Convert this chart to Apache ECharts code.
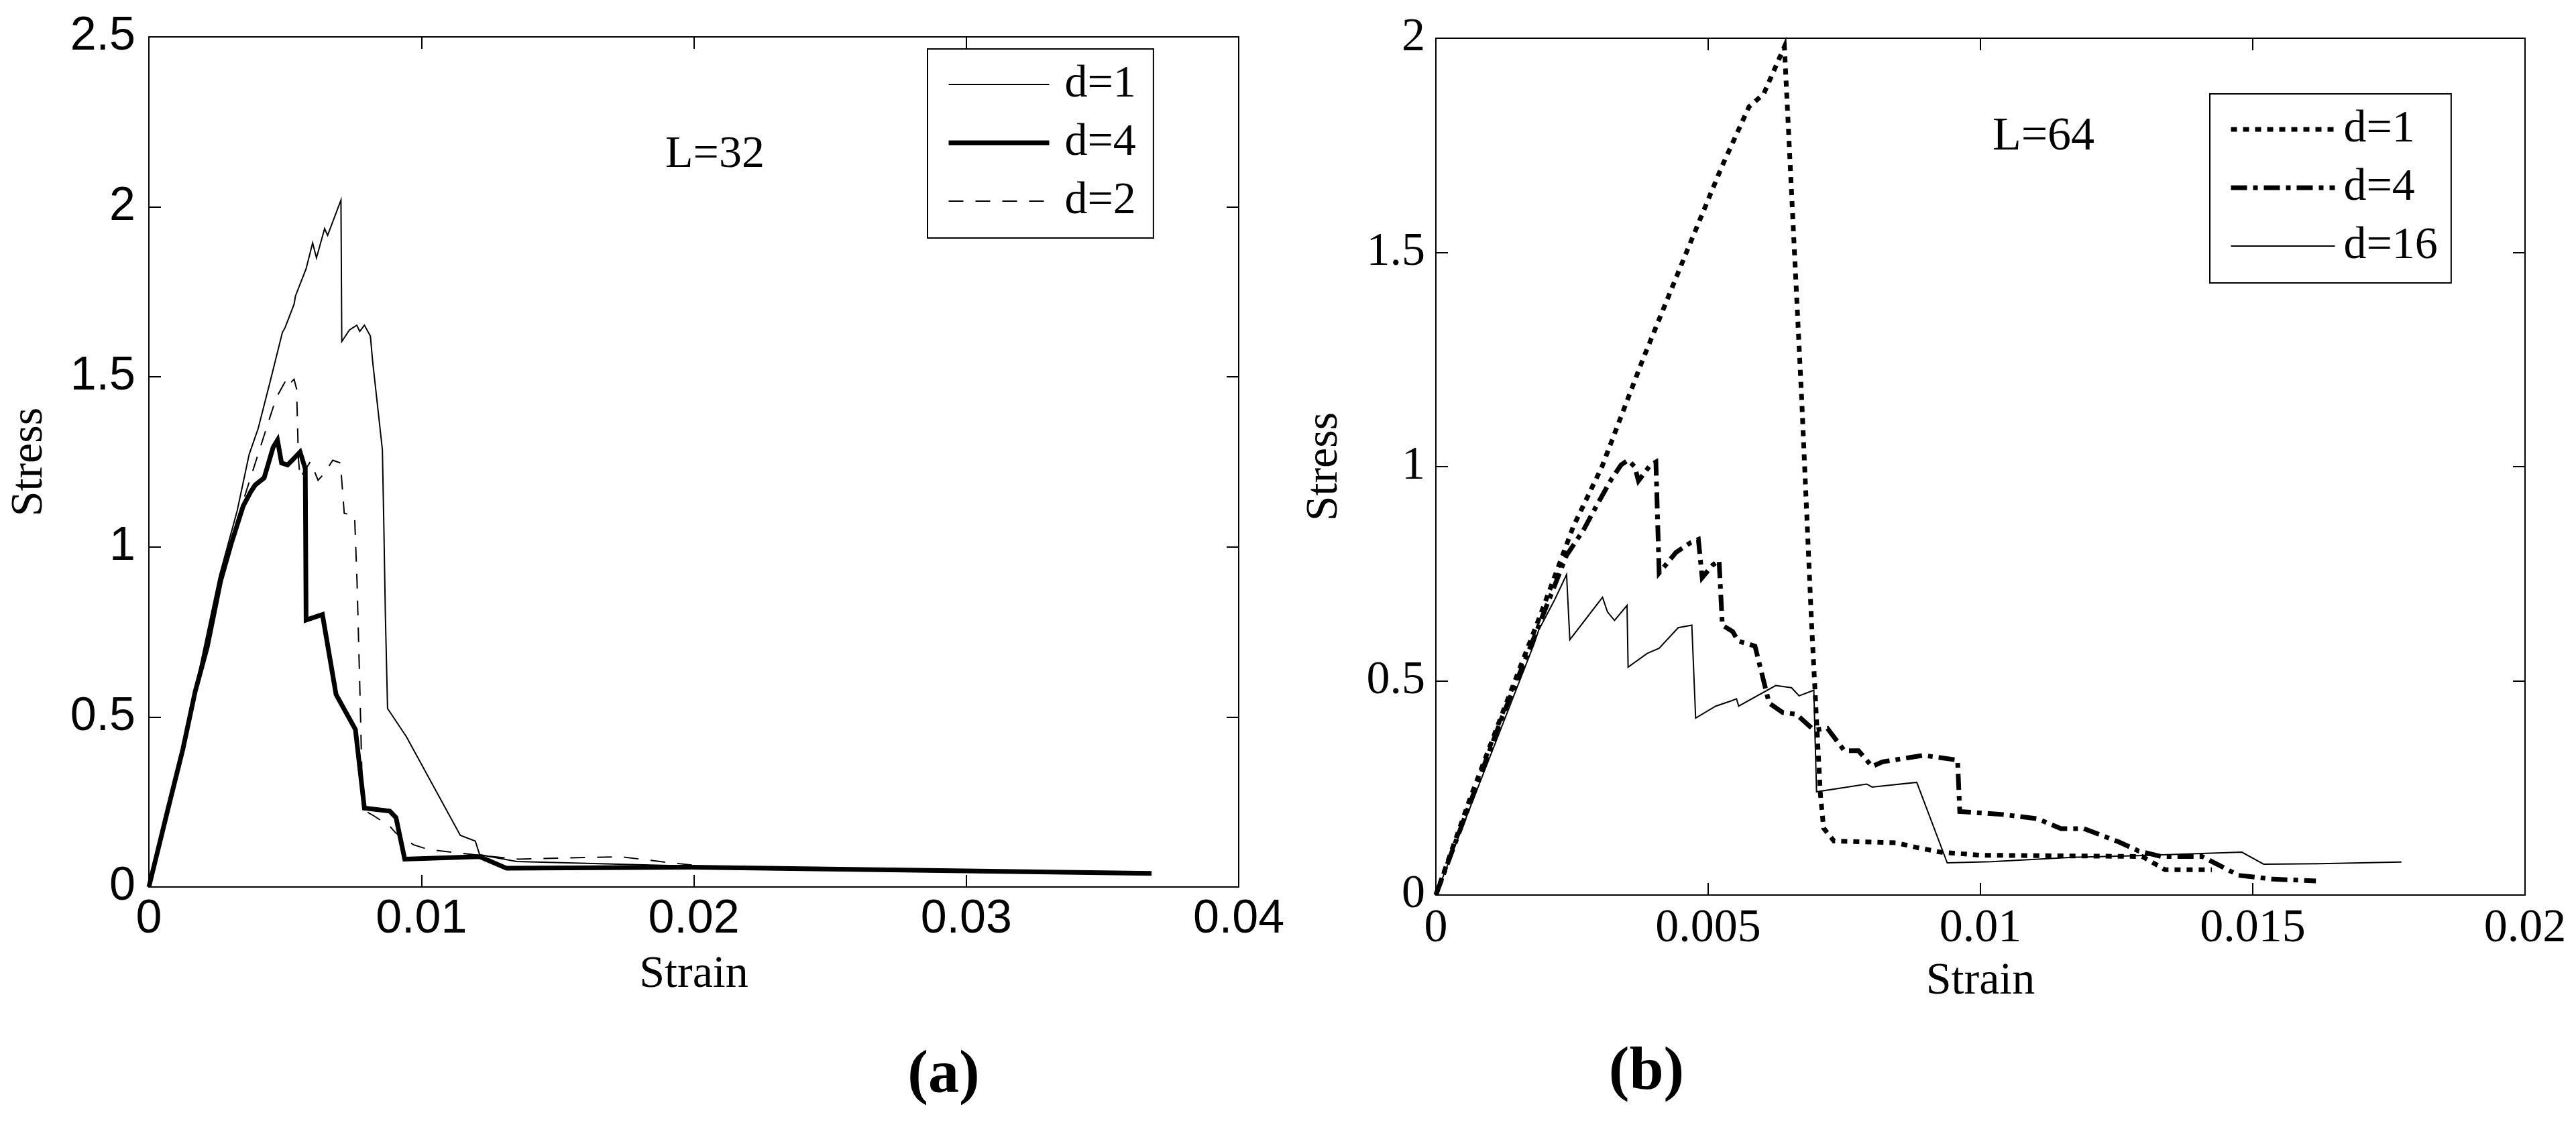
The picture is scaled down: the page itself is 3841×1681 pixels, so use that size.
<!DOCTYPE html>
<html>
<head>
<meta charset="utf-8">
<title>Stress-strain, L=32 and L=64</title>
<script src="https://cdn.jsdelivr.net/npm/echarts@6/dist/echarts.min.js"></script>
<style>
  html, body { margin: 0; padding: 0; background: #fff; }
  #charts { width: 3841px; height: 1681px; }
</style>
</head>
<body>
<div id="charts"></div>
<script>
// ---- data: [strain, stress] ----
// (a) L=32
const l32D1 = [[0,0],[0.00066,0.22],[0.0013,0.43],[0.00258,0.912],[0.00324,1.106],[0.00368,1.272],[0.00401,1.348],[0.00445,1.486],[0.0049,1.631],[0.005,1.645],[0.00533,1.714],[0.00538,1.738],[0.00577,1.818],[0.00601,1.894],[0.00615,1.85],[0.00645,1.936],[0.00656,1.916],[0.00705,2.02],[0.00708,1.604],[0.00736,1.638],[0.00763,1.652],[0.00774,1.634],[0.00791,1.652],[0.00813,1.62],[0.00821,1.548],[0.00857,1.286],[0.00862,1.078],[0.00868,0.8],[0.00876,0.525],[0.00945,0.442],[0.01143,0.152],[0.01198,0.135],[0.01214,0.095],[0.0135,0.075],[0.0205,0.06]];
const l32D4 = [[0,0],[0.00066,0.216],[0.00125,0.406],[0.0017,0.575],[0.00214,0.705],[0.00263,0.899],[0.00302,1.009],[0.00346,1.12],[0.00373,1.161],[0.0039,1.182],[0.00423,1.203],[0.00456,1.293],[0.00472,1.314],[0.00487,1.247],[0.00509,1.241],[0.00555,1.279],[0.00574,1.23],[0.00577,0.785],[0.00637,0.801],[0.00687,0.566],[0.00758,0.463],[0.00791,0.232],[0.00884,0.223],[0.00907,0.204],[0.00939,0.082],[0.01214,0.089],[0.01313,0.055],[0.0199,0.058],[0.0368,0.04]];
const l32D2 = [[0,0],[0.00066,0.22],[0.0013,0.43],[0.0026,0.9],[0.00324,1.08],[0.00395,1.258],[0.00467,1.438],[0.00505,1.493],[0.00513,1.477],[0.00533,1.493],[0.00542,1.465],[0.00549,1.258],[0.00555,1.203],[0.00593,1.251],[0.00621,1.196],[0.00643,1.216],[0.00675,1.255],[0.00703,1.247],[0.00717,1.099],[0.00755,1.092],[0.00764,0.898],[0.00774,0.594],[0.00785,0.228],[0.00824,0.21],[0.00884,0.179],[0.00906,0.159],[0.00972,0.124],[0.01027,0.11],[0.01214,0.093],[0.01357,0.082],[0.01731,0.089],[0.01906,0.072],[0.0205,0.06]];

// (b) L=64
const l64D1 = [[0,0],[0.00063,0.226],[0.00126,0.437],[0.00189,0.644],[0.00252,0.859],[0.00305,1.0],[0.0038,1.25],[0.0046,1.5],[0.00525,1.7],[0.00575,1.84],[0.00602,1.87],[0.0064,1.98],[0.00672,1.15],[0.0069,0.63],[0.00706,0.237],[0.00712,0.156],[0.00731,0.126],[0.00845,0.122],[0.00883,0.111],[0.00927,0.1],[0.01,0.093],[0.01297,0.09],[0.01339,0.059],[0.01425,0.059]];
const l64D4 = [[0,0],[0.0012,0.41],[0.0018,0.6],[0.0024,0.793],[0.00271,0.852],[0.00296,0.911],[0.00322,0.97],[0.0034,1.004],[0.00353,1.015],[0.00365,1.0],[0.00372,0.967],[0.00394,1.004],[0.00404,1.011],[0.0041,0.752],[0.00441,0.8],[0.00467,0.822],[0.00482,0.83],[0.00489,0.741],[0.00508,0.77],[0.0052,0.781],[0.00526,0.63],[0.00545,0.615],[0.00555,0.593],[0.00586,0.581],[0.00612,0.448],[0.00637,0.426],[0.00662,0.422],[0.00694,0.385],[0.00719,0.389],[0.0075,0.337],[0.00776,0.337],[0.00801,0.3],[0.0082,0.311],[0.00895,0.326],[0.00958,0.315],[0.00962,0.195],[0.01041,0.188],[0.01105,0.178],[0.01148,0.155],[0.0119,0.155],[0.01254,0.124],[0.0129,0.103],[0.01332,0.09],[0.01407,0.09],[0.01474,0.046],[0.01538,0.037],[0.01616,0.033]];
const l64D16 = [[0,0],[0.0018,0.585],[0.00189,0.619],[0.00218,0.689],[0.0024,0.748],[0.00246,0.596],[0.00306,0.695],[0.00315,0.661],[0.00328,0.641],[0.00351,0.676],[0.00353,0.532],[0.00388,0.564],[0.0041,0.576],[0.00445,0.624],[0.0047,0.63],[0.00477,0.413],[0.00514,0.441],[0.00542,0.453],[0.00552,0.458],[0.00556,0.441],[0.00624,0.489],[0.00653,0.484],[0.00667,0.465],[0.00694,0.478],[0.00699,0.241],[0.00791,0.259],[0.00801,0.252],[0.00883,0.263],[0.00939,0.075],[0.0102,0.078],[0.01169,0.088],[0.0129,0.092],[0.0148,0.1],[0.0152,0.072],[0.01624,0.073],[0.01773,0.077]];

// tick labels
const l32StrainTicks = ['0', '0.01', '0.02', '0.03', '0.04'];
const l32StressTicks = ['0', '0.5', '1', '1.5', '2', '2.5'];
const l64StrainTicks = ['0', '0.005', '0.01', '0.015', '0.02'];
const l64StressTicks = ['0', '0.5', '1', '1.5', '2'];

const serif = '"Liberation Serif", "Times New Roman", serif';
const sans = '"Liberation Sans", Arial, sans-serif';

function tickFmt(labels, step) {
    return function (v) { return labels[Math.round(v / step)]; };
}

function boxAxis(base, extra) {
    return Object.assign({
        type: 'value',
        axisLine: { show: true, onZero: false, lineStyle: { color: '#000', width: 2 } },
        axisTick: { show: true, inside: true, length: 18, lineStyle: { color: '#000', width: 2 } },
        splitLine: { show: false }
    }, base, extra);
}

// axisIdx: 0 -> panel (a), 2 -> panel (b)
function line(name, data, axisIdx, width, type, z) {
    return {
        name: name,
        type: 'line',
        xAxisIndex: axisIdx,
        yAxisIndex: axisIdx,
        data: data,
        symbol: 'none',
        showSymbol: false,
        z: z,
        itemStyle: { color: '#000' },
        lineStyle: { color: '#000', width: width, type: type, cap: 'butt', join: 'miter' }
    };
}

function legendBox(names, left, top, itemWidth, pad, textPad) {
    return {
        data: names,
        orient: 'vertical', left: left, top: top,
        itemWidth: itemWidth, itemHeight: 30, itemGap: 17,
        padding: pad,
        borderColor: '#000', borderWidth: 2, backgroundColor: '#fff',
        selectedMode: false,
        formatter: function (n) { return n.split('|')[1]; },
        itemStyle: { color: 'rgba(0,0,0,0)', borderWidth: 0, opacity: 0 },
        lineStyle: { width: 'inherit' },
        textStyle: { fontFamily: serif, fontSize: 68, lineHeight: 70, color: '#000', padding: [0, 0, 0, textPad] }
    };
}

let myChart = echarts.init(document.getElementById('charts'));
myChart.setOption({
    animation: false,
    backgroundColor: '#fff',
    grid: [
        { left: 222, top: 55, width: 1625, height: 1268 },
        { left: 2141, top: 57, width: 1624, height: 1278 }
    ],
    xAxis: [
        boxAxis({ gridIndex: 0, min: 0, max: 0.04, interval: 0.01 }, {
            position: 'bottom',
            axisLabel: { formatter: tickFmt(l32StrainTicks, 0.01), fontFamily: sans, fontSize: 70, color: '#000', margin: 14 },
            name: 'Strain', nameLocation: 'middle', nameGap: 97,
            nameTextStyle: { fontFamily: serif, fontSize: 68, color: '#000' }
        }),
        boxAxis({ gridIndex: 0, min: 0, max: 0.04, interval: 0.01 }, { position: 'top', axisLabel: { show: false } }),
        boxAxis({ gridIndex: 1, min: 0, max: 0.02, interval: 0.005 }, {
            position: 'bottom',
            axisLabel: { formatter: tickFmt(l64StrainTicks, 0.005), fontFamily: serif, fontSize: 70, color: '#000', margin: 16 },
            name: 'Strain', nameLocation: 'middle', nameGap: 95,
            nameTextStyle: { fontFamily: serif, fontSize: 68, color: '#000' }
        }),
        boxAxis({ gridIndex: 1, min: 0, max: 0.02, interval: 0.005 }, { position: 'top', axisLabel: { show: false } })
    ],
    yAxis: [
        boxAxis({ gridIndex: 0, min: 0, max: 2.5, interval: 0.5 }, {
            position: 'left',
            axisLabel: { formatter: tickFmt(l32StressTicks, 0.5), fontFamily: sans, fontSize: 70, color: '#000', margin: 20 },
            name: 'Stress', nameLocation: 'middle', nameGap: 144, nameRotate: 90,
            nameTextStyle: { fontFamily: serif, fontSize: 68, color: '#000' }
        }),
        boxAxis({ gridIndex: 0, min: 0, max: 2.5, interval: 0.5 }, { position: 'right', axisLabel: { show: false } }),
        boxAxis({ gridIndex: 1, min: 0, max: 2, interval: 0.5 }, {
            position: 'left',
            axisLabel: { formatter: tickFmt(l64StressTicks, 0.5), fontFamily: serif, fontSize: 70, color: '#000', margin: 16 },
            name: 'Stress', nameLocation: 'middle', nameGap: 132, nameRotate: 90,
            nameTextStyle: { fontFamily: serif, fontSize: 68, color: '#000' }
        }),
        boxAxis({ gridIndex: 1, min: 0, max: 2, interval: 0.5 }, { position: 'right', axisLabel: { show: false } })
    ],
    legend: [
        legendBox(['a|d=1', 'a|d=4', 'a|d=2'], 1383, 73, 150, [18, 26, 20, 28], 18),
        legendBox(['b|d=1', 'b|d=4', 'b|d=16'], 3295, 140, 155, [18, 20, 20, 28], 8)
    ],
    series: [
        line('a|d=1', l32D1, 0, 2, 'solid', 2),
        line('a|d=2', l32D2, 0, 2, [22, 18], 2),
        line('a|d=4', l32D4, 0, 7, 'solid', 3),
        line('b|d=16', l64D16, 2, 2, 'solid', 2),
        line('b|d=4', l64D4, 2, 7, [24, 9, 7, 9], 3),
        line('b|d=1', l64D1, 2, 7, [9, 9], 3)
    ],
    graphic: [
        { type: 'text', x: 1066, y: 231, style: { text: 'L=32', font: '68px ' + serif, fill: '#000', align: 'center', verticalAlign: 'middle' } },
        { type: 'text', x: 3047, y: 205, style: { text: 'L=64', font: '70px ' + serif, fill: '#000', align: 'center', verticalAlign: 'middle' } },
        { type: 'text', x: 1407, y: 1605, style: { text: '(a)', font: 'bold 92px ' + serif, fill: '#000', align: 'center', verticalAlign: 'middle' } },
        { type: 'text', x: 2455, y: 1600, style: { text: '(b)', font: 'bold 92px ' + serif, fill: '#000', align: 'center', verticalAlign: 'middle' } }
    ]
});
</script>
</body>
</html>
